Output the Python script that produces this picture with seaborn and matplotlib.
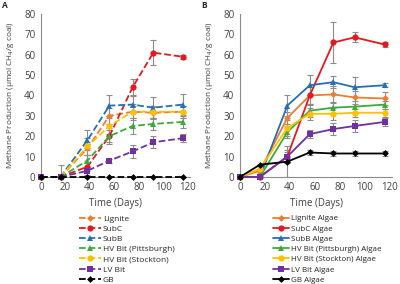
import matplotlib
matplotlib.use("Agg")
import matplotlib.pyplot as plt
import pandas as pd
import seaborn as sns

# sampling days
days = [0, 16, 38, 56, 75, 92, 116]

# panel A - coal only
names_a = ["Lignite", "SubC", "SubB", "HV Bit (Pittsburgh)", "HV Bit (Stockton)", "LV Bit", "GB"]
lignite = [0, 0, 14, 30, 32, 31.5, 32]
subc = [0, 0, 5, 20, 44, 61, 59]
subb = [0, 0, 18, 35, 35.5, 34, 35.5]
hv_pitt = [0, 0, 8, 20, 25, 26, 27]
hv_stock = [0, 0, 15, 25, 32, 32, 32]
lv_bit = [0, 0, 3, 8, 12.5, 17, 19]
gb = [0, 0, 0, 0, 0, 0, 0]
err_a = [
    [0, 0, 3, 4, 4, 3, 3],
    [0, 0, 2, 3, 4, 6, 1],
    [0, 0, 5, 5, 4, 5, 5],
    [0, 0, 3, 4, 4, 3, 3],
    [0, 6, 4, 4, 3, 3, 3],
    [0, 0, 2, 1, 3, 3, 2],
    [0, 0, 0, 0, 0, 0, 0],
]

# panel B - coal with algae
names_b = [n + " Algae" for n in names_a]
lignite_alg = [0, 3, 29, 40, 40.5, 39, 38.5]
subc_alg = [0, 0, 10, 40, 66, 68.5, 65]
subb_alg = [0, 0, 35, 45, 46.5, 44, 45]
hv_pitt_alg = [0, 0, 22, 32.5, 34, 34.5, 35.5]
hv_stock_alg = [0, 4, 24, 31, 31, 31.5, 31.5]
lv_bit_alg = [0, 0, 10, 21, 23.5, 25, 27]
gb_alg = [0, 6, 7.5, 12, 11.5, 11.5, 11.5]
err_b = [
    [0, 0, 3, 4, 4, 3, 3],
    [0, 0, 2, 4, 10, 2.5, 1],
    [0, 0, 5, 5, 3, 5, 1],
    [0, 0, 3, 3, 3, 3, 2],
    [0, 2, 4, 3, 3, 2, 2],
    [0, 0, 3, 2, 3, 3, 2],
    [0, 0, 7.5, 1, 1, 1, 1],
]

colors = ["#ED7D31", "#E3191F", "#2470B8", "#3DAA3A", "#FFC000", "#7030A0", "#000000"]
markers = ["D", "o", "^", "^", "o", "s", "D"]

sns.set_style("white")
plt.rcParams["font.family"] = ["Open Sans", "DejaVu Sans"]

fig = plt.figure(figsize=(4.0, 2.84), dpi=100)
ax_a = fig.add_axes([0.1025, 0.377, 0.3725, 0.574])
ax_b = fig.add_axes([0.6, 0.377, 0.38, 0.574])


def draw_panel(ax, names, series, errs, dashed):
    for name, vals, err, c, m in zip(names, series, errs, colors, markers):
        df = pd.DataFrame({"day": days, "ch4": vals})
        ax.errorbar(days, vals, yerr=err, fmt="none", ecolor="#8c8c8c",
                    elinewidth=0.8, capsize=2, capthick=0.8, zorder=1)
        sns.lineplot(data=df, x="day", y="ch4", ax=ax, color=c, marker=m,
                     markersize=4.5 if m != "D" else 3.5, markeredgewidth=0,
                     linewidth=1.3, linestyle="--" if dashed else "-",
                     label=name, clip_on=False, zorder=3)
    ax.set_xlim(0, 122)
    ax.set_ylim(0, 80)
    ax.set_xticks(range(0, 121, 20))
    ax.set_yticks(range(0, 81, 10))
    ax.tick_params(labelsize=7, length=0, pad=4, colors="#404040")
    ax.set_xlabel("Time (Days)", fontsize=7, color="#404040", labelpad=3)
    ax.set_ylabel("Methane Production (µmol CH$_4$/g coal)", fontsize=5.9,
                  color="#404040", labelpad=6)
    for s in ["top", "right"]:
        ax.spines[s].set_visible(False)
    ax.spines["left"].set_color("#8c8c8c")
    ax.spines["bottom"].set_color("#8c8c8c")
    ax.legend().remove()


draw_panel(ax_a, names_a, [lignite, subc, subb, hv_pitt, hv_stock, lv_bit, gb], err_a, True)
draw_panel(ax_b, names_b, [lignite_alg, subc_alg, subb_alg, hv_pitt_alg, hv_stock_alg, lv_bit_alg, gb_alg], err_b, False)

h, l = ax_a.get_legend_handles_labels()
fig.legend(h, l, loc="upper left", bbox_to_anchor=(0.19, 0.255), frameon=False,
           fontsize=6, handlelength=2.6, labelspacing=0.28, borderaxespad=0,
           handletextpad=0.2, ncol=1)
h, l = ax_b.get_legend_handles_labels()
fig.legend(h, l, loc="upper left", bbox_to_anchor=(0.675, 0.255), frameon=False,
           fontsize=5.8, handlelength=2.0, labelspacing=0.32, borderaxespad=0,
           handletextpad=0.2, ncol=1)

fig.text(0.005, 0.995, "A", fontsize=6, fontweight="bold", va="top")
fig.text(0.502, 0.995, "B", fontsize=6, fontweight="bold", va="top")

fig.savefig("out.png", dpi=100)
